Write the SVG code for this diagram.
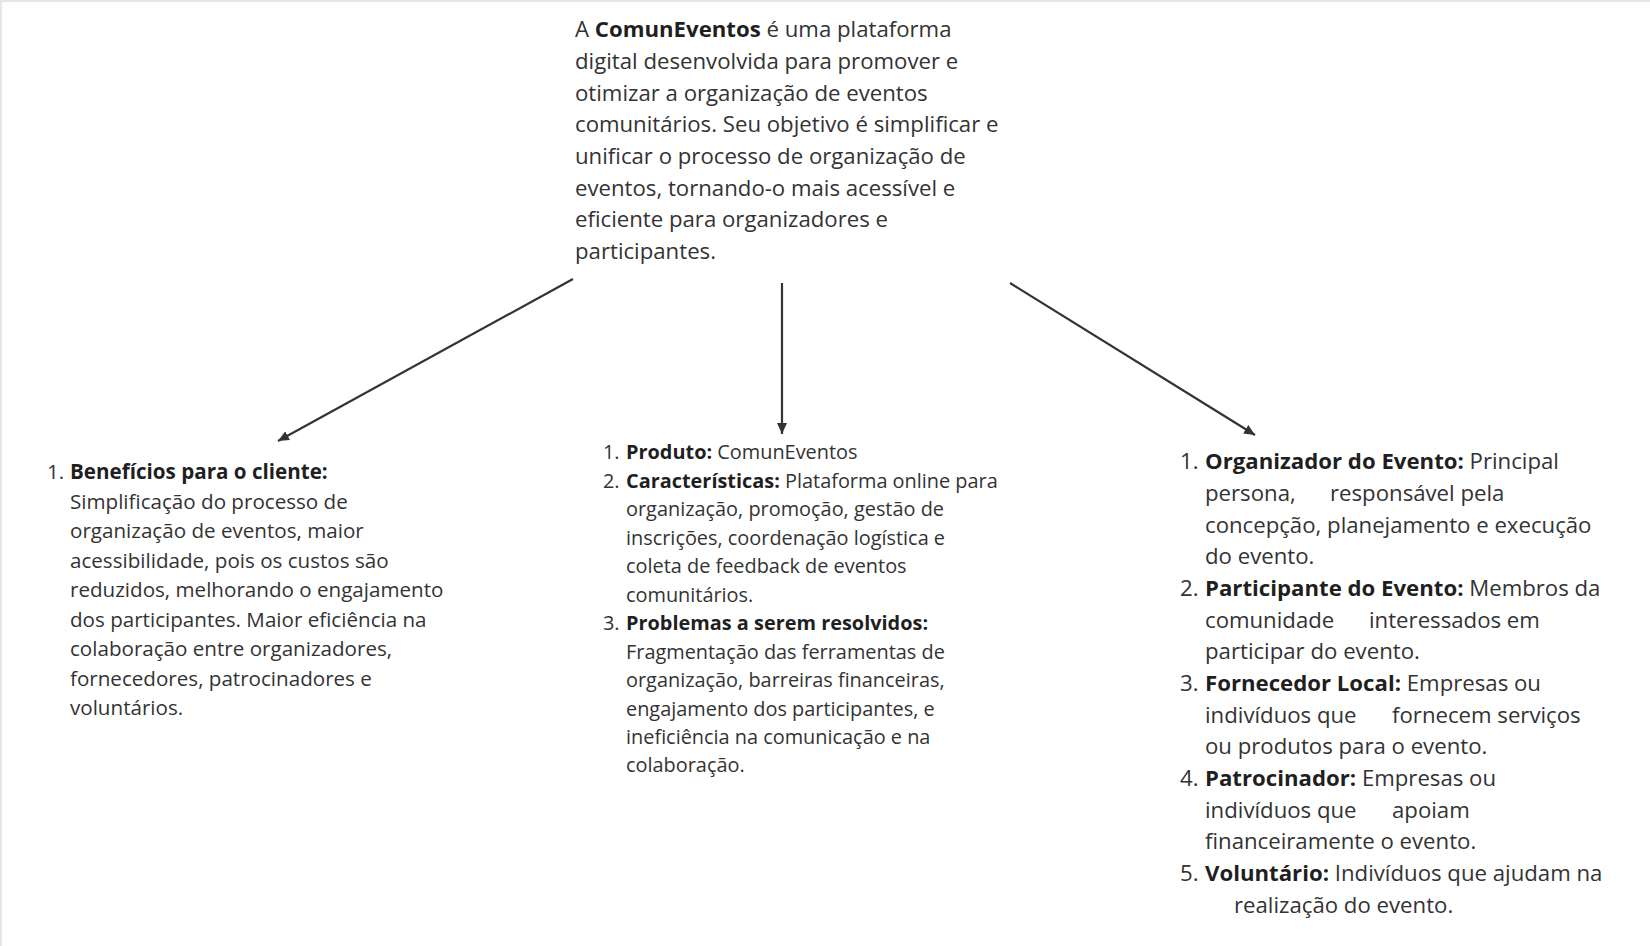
<svg xmlns="http://www.w3.org/2000/svg" width="1650" height="946" viewBox="0 0 1650 946">
<defs>
<style>
text{font-family:"Open Sans","Noto Sans","DejaVu Sans",sans-serif;fill:#333333}
.b{font-weight:bold;fill:#1f1f1f}
.t22{font-size:22.2px}
.t21{font-size:20.6px}
.t20{font-size:19.9px}
.conn{stroke:#333333;stroke-width:2.2;fill:none}
</style>
<marker id="ah" markerWidth="12" markerHeight="10" refX="11" refY="5" orient="auto" markerUnits="userSpaceOnUse">
<path d="M0,0 L11,5 L0,10 Z" fill="#333333"/>
</marker>
</defs>
<rect x="0" y="0" width="1650" height="946" fill="#ffffff"/>
<path d="M1,946 L1,1 L1650,1" stroke="#e6e6e6" stroke-width="2" fill="none"/>

<g id="intro" class="t22">
<text x="575" y="37">A <tspan class="b">ComunEventos</tspan> é uma plataforma</text>
<text x="575" y="69">digital desenvolvida para promover e</text>
<text x="575" y="101">otimizar a organização de eventos</text>
<text x="575" y="132">comunitários. Seu objetivo é simplificar e</text>
<text x="575" y="164">unificar o processo de organização de</text>
<text x="575" y="196">eventos, tornando-o mais acessível e</text>
<text x="575" y="227">eficiente para organizadores e</text>
<text x="575" y="259">participantes.</text>
</g>

<g id="connectors">
<line class="conn" x1="573" y1="279" x2="278" y2="441" marker-end="url(#ah)"/>
<line class="conn" x1="782" y1="283" x2="782" y2="434" marker-end="url(#ah)"/>
<line class="conn" x1="1010" y1="283" x2="1255" y2="435" marker-end="url(#ah)"/>
</g>

<g id="beneficios" class="t21">
<text x="47" y="479">1.</text>
<text x="70" y="479" class="b">Benefícios para o cliente:</text>
<text x="70" y="508.5">Simplificação do processo de</text>
<text x="70" y="538">organização de eventos, maior</text>
<text x="70" y="567.5">acessibilidade, pois os custos são</text>
<text x="70" y="597">reduzidos, melhorando o engajamento</text>
<text x="70" y="626.5">dos participantes. Maior eficiência na</text>
<text x="70" y="656">colaboração entre organizadores,</text>
<text x="70" y="685.5">fornecedores, patrocinadores e</text>
<text x="70" y="715">voluntários.</text>
</g>

<g id="produto" class="t20">
<text x="603" y="459">1.</text>
<text x="626" y="459"><tspan class="b">Produto:</tspan> ComunEventos</text>
<text x="603" y="487.5">2.</text>
<text x="626" y="487.5"><tspan class="b">Características:</tspan> Plataforma online para</text>
<text x="626" y="516">organização, promoção, gestão de</text>
<text x="626" y="544.5">inscrições, coordenação logística e</text>
<text x="626" y="573">coleta de feedback de eventos</text>
<text x="626" y="601.5">comunitários.</text>
<text x="603" y="630">3.</text>
<text x="626" y="630" class="b">Problemas a serem resolvidos:</text>
<text x="626" y="658.5">Fragmentação das ferramentas de</text>
<text x="626" y="687">organização, barreiras financeiras,</text>
<text x="626" y="715.5">engajamento dos participantes, e</text>
<text x="626" y="744">ineficiência na comunicação e na</text>
<text x="626" y="772">colaboração.</text>
</g>

<g id="personas" class="t22">
<text x="1180" y="469">1.</text>
<text x="1205" y="469"><tspan class="b">Organizador do Evento:</tspan> Principal</text>
<text x="1205" y="501">persona,</text>
<text x="1330" y="501">responsável pela</text>
<text x="1205" y="533">concepção, planejamento e execução</text>
<text x="1205" y="564">do evento.</text>
<text x="1180" y="596">2.</text>
<text x="1205" y="596"><tspan class="b">Participante do Evento:</tspan> Membros da</text>
<text x="1205" y="628">comunidade</text>
<text x="1369" y="628">interessados em</text>
<text x="1205" y="659">participar do evento.</text>
<text x="1180" y="691">3.</text>
<text x="1205" y="691"><tspan class="b">Fornecedor Local:</tspan> Empresas ou</text>
<text x="1205" y="723">indivíduos que</text>
<text x="1392" y="723">fornecem serviços</text>
<text x="1205" y="754">ou produtos para o evento.</text>
<text x="1180" y="786">4.</text>
<text x="1205" y="786"><tspan class="b">Patrocinador:</tspan> Empresas ou</text>
<text x="1205" y="818">indivíduos que</text>
<text x="1392" y="818">apoiam</text>
<text x="1205" y="849">financeiramente o evento.</text>
<text x="1180" y="881">5.</text>
<text x="1205" y="881"><tspan class="b">Voluntário:</tspan> Indivíduos que ajudam na</text>
<text x="1234" y="913">realização do evento.</text>
</g>
</svg>
